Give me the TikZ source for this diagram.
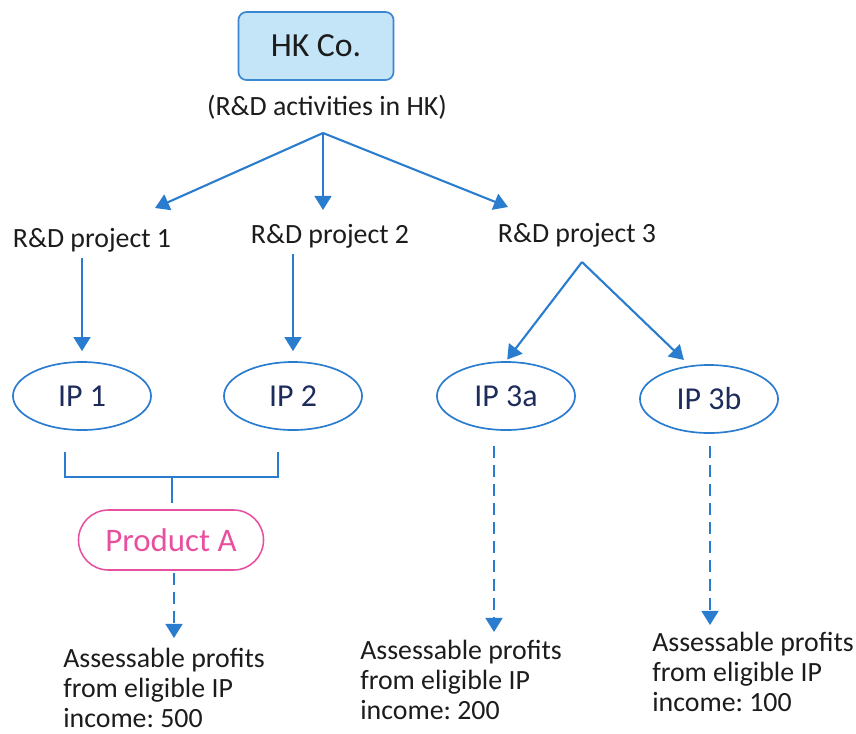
\documentclass[tikz,border=0pt]{standalone}
\usepackage{fontspec}
\setmainfont{Carlito}
\frenchspacing
\usetikzlibrary{arrows.meta, positioning, shapes, calc}

\definecolor{lineblue}{HTML}{2A7CCF}
\definecolor{boxfill}{HTML}{C4E5F8}
\definecolor{boxline}{HTML}{3A86D0}
\definecolor{pinkline}{HTML}{E8509F}
\definecolor{ipnavy}{HTML}{1E2C5C}
\definecolor{textdark}{HTML}{1C1C1C}

\begin{document}
\begin{tikzpicture}[x=0.025cm, y=-0.025cm,
    txt/.style={font=\fontsize{19.8}{21.3}\selectfont, text=textdark, inner sep=0pt},
    arr/.style={draw=lineblue, line width=1.5pt, -{Triangle[width=12pt,length=10pt]}},
    dasharr/.style={arr, dash pattern=on 8.5pt off 5pt},
    ipnode/.style={ellipse, draw=lineblue, line width=1.2pt, minimum width=3.45cm, minimum height=1.7cm, font=\fontsize{22.7}{26}\selectfont, text=ipnavy}]
    \useasboundingbox (0,0) rectangle (856,733);

    % Company
    \node[draw=boxline, fill=boxfill, line width=1.2pt, rounded corners=0.2cm, minimum width=3.875cm, minimum height=1.7cm, font=\fontsize{24}{28}\selectfont, text=textdark] (hk) at (316,46) {HK Co.};
    \node[txt, anchor=base] (act) at (327,115) {(R\&D activities in HK)};

    % Projects
    \node[txt, anchor=base] (p1) at (92,247) {R\&D project 1};
    \node[txt, anchor=base] (p2) at (330,243) {R\&D project 2};
    \node[txt, anchor=base] (p3) at (577,242) {R\&D project 3};

    \coordinate (split) at (323,133);
    \coordinate (in1) at (155,208);
    \coordinate (in2) at (323,210);
    \coordinate (in3) at (508,207);
    \draw[arr] (split) -- (in1);
    \draw[arr] (split) -- (in2);
    \draw[arr] (split) -- (in3);

    % IPs
    \node[ipnode] (ip1) at (82,396) {IP 1};
    \node[ipnode] (ip2) at (293,396) {IP 2};
    \node[ipnode] (ip3a) at (506,396) {IP 3a};
    \node[ipnode] (ip3b) at (709,399) {IP 3b};

    \draw[arr, shorten >=0.25cm] ($(p1.south -| ip1)+(0,6)$) -- (ip1.north);
    \draw[arr, shorten >=0.25cm] ($(p2.south -| ip2)+(0,6)$) -- (ip2.north);
    \coordinate (fork3) at (582,262);
    \draw[arr, shorten >=0.05cm] (fork3) -- (ip3a.north);
    \draw[arr, shorten >=0.2cm] (fork3) -- (ip3b.120);

    % Bracket
    \draw[draw=lineblue, line width=1.5pt] (65,452) -- (65,477) -- (278,477) -- (278,452);
    \draw[draw=lineblue, line width=1.5pt] (172,477) -- (172,503);

    % Product
    \node[draw=pinkline, line width=1.1pt, rounded corners=0.75cm, minimum width=4.625cm, minimum height=1.5cm, font=\fontsize{23.4}{27}\selectfont, text=pinkline] (prod) at (171,540) {Product A};

    % Results
    \node[txt, anchor=north west, align=left] (res1) at (63,648) {Assessable profits\\from eligible IP\\income: 500};
    \node[txt, anchor=north west, align=left] (res2) at (360,640) {Assessable profits\\from eligible IP\\income: 200};
    \node[txt, anchor=north west, align=left] (res3) at (652,632) {Assessable profits\\from eligible IP\\income: 100};

    \draw[dasharr] ($(prod.south)+(3,2)$) -- ($(prod.south |- res1.north)+(3,-10)$);
    \draw[dasharr] ($(ip3a.south)+(-12,15)$) -- ($(ip3a.south |- res2.north)+(-12,-8)$);
    \draw[dasharr] ($(ip3b.south)+(1,12)$) -- ($(ip3b.south |- res3.north)+(1,-7)$);
\end{tikzpicture}
\end{document}
